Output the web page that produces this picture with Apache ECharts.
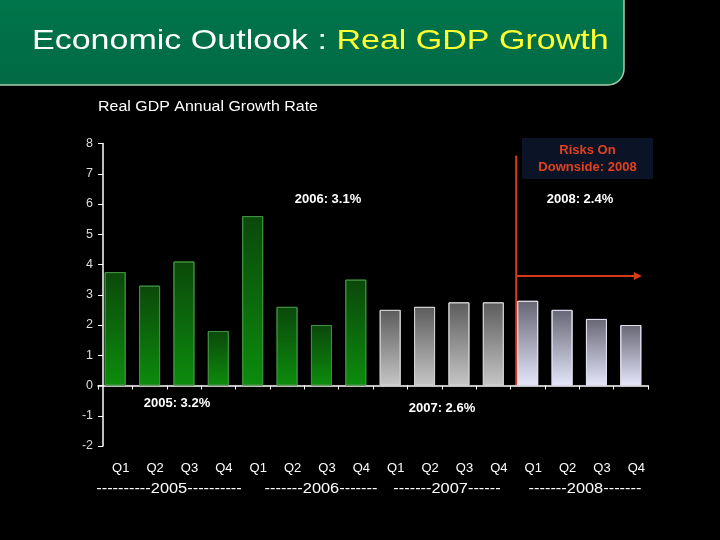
<!DOCTYPE html>
<html><head><meta charset="utf-8">
<script src="https://cdn.jsdelivr.net/npm/echarts@6/dist/echarts.min.js"></script>
<style>html,body{margin:0;padding:0;background:#000}#c{width:720px;height:540px}</style>
</head><body><div id="c"></div>
<script>
// ---- data ----
var quarters = ['Q1','Q2','Q3','Q4','Q1','Q2','Q3','Q4','Q1','Q2','Q3','Q4','Q1','Q2','Q3','Q4'];
var yearOfBar = [2005,2005,2005,2005,2006,2006,2006,2006,2007,2007,2007,2007,2008,2008,2008,2008];
var growth = [3.75,3.3,4.1,1.8,5.6,2.6,2.0,3.5,2.5,2.6,2.75,2.75,2.8,2.5,2.2,2.0];
var yearLabels = ['----------2005----------','-------2006-------','-------2007------','-------2008-------'];
var annualNotes = ['2005: 3.2%','2006: 3.1%','2007: 2.6%','2008: 2.4%'];
var yTicks = {min:-2, max:8, interval:1};

function grad(top, bottom){
  return {type:'linear',x:0,y:0,x2:0,y2:1,colorStops:[{offset:0,color:top},{offset:1,color:bottom}]};
}
var styles = {
  2005:{color:grad('#0b480b','#0c8c0c'), borderColor:'#3f8f3f'},
  2006:{color:grad('#0b480b','#0c8c0c'), borderColor:'#3f8f3f'},
  2007:{color:grad('#5c5c5c','#c6c6c6'), borderColor:'#d0d0d0'},
  2008:{color:grad('#666674','#e6e6fc'), borderColor:'#e0e0f0'}
};
var barData = growth.map(function(v,i){
  var s = styles[yearOfBar[i]];
  return {value:v, itemStyle:{color:s.color, borderColor:s.borderColor, borderWidth:1}};
});

var chart = echarts.init(document.getElementById('c'));
var font = 'Liberation Sans, Arial, sans-serif';
chart.setOption({
  backgroundColor:'#000',
  animation:false,
  grid:{left:98, right:72, top:143.5, bottom:94},
  xAxis:[
    {type:'category', data:quarters, axisLine:{onZero:true, lineStyle:{color:'#fff',width:1.5}},
     axisTick:{show:true, length:4, lineStyle:{color:'#fff'}}, axisLabel:{show:false}},
    {type:'category', data:quarters, position:'bottom', axisLine:{show:false, onZero:false}, axisTick:{show:false},
     axisLabel:{color:'#fff', fontFamily:font, fontSize:13, margin:16, padding:[0,0,0,11]}}
  ],
  yAxis:{type:'value', min:yTicks.min, max:yTicks.max, interval:yTicks.interval, offset:-5,
    axisLine:{show:true, lineStyle:{color:'#fff',width:1.5}},
    axisTick:{show:true, length:5, lineStyle:{color:'#fff'}},
    splitLine:{show:false},
    axisLabel:{color:'#ddd', fontFamily:font, fontSize:12.5, margin:10}},
  series:[{type:'bar', xAxisIndex:0, data:barData, barWidth:21}]
});

// annotations positioned from the chart's own scales
function px(cat, val){ return chart.convertToPixel({xAxisIndex:0, yAxisIndex:0}, [cat, val]); }
var lineX = px(12,0)[0] - 11.5;
var lineTop = px(12,7.6)[1];
var zeroY = px(12,0)[1];
var arrowY = px(12,3.62)[1];
var arrowEnd = px(15,0)[0] + 11;

var g = [
  {type:'rect', shape:{x:-20,y:-20,width:644,height:105,r:16}, style:{fill:grad('#00774c','#006a44'), stroke:'#a8ccb2', lineWidth:1.5}},
  {type:'text', x:32, y:41, scaleX:1.215, style:{text:'{w|Economic Outlook : }{y|Real GDP Growth}', verticalAlign:'middle',
    rich:{w:{fill:'#fff', font:'28px '+font}, y:{fill:'#ffff33', font:'28px '+font}}}},
  {type:'text', x:98, y:107, scaleX:1.14, style:{text:'Real GDP Annual Growth Rate', fill:'#fff', font:'14px '+font, verticalAlign:'middle'}},
  {type:'rect', shape:{x:522,y:138,width:131,height:41}, style:{fill:'#0a1426'}},
  {type:'text', x:587.5, y:158.5, style:{text:'Risks On\nDownside: 2008', fill:'#e2401e', font:'bold 13px '+font, align:'center', verticalAlign:'middle', lineHeight:17}},
  {type:'line', shape:{x1:lineX,y1:lineTop,x2:lineX,y2:zeroY}, style:{stroke:'#d8391b', lineWidth:2}},
  {type:'line', shape:{x1:lineX,y1:arrowY,x2:arrowEnd-6,y2:arrowY}, style:{stroke:'#d8391b', lineWidth:2}},
  {type:'polygon', shape:{points:[[arrowEnd,arrowY],[arrowEnd-8,arrowY-4],[arrowEnd-8,arrowY+4]]}, style:{fill:'#d8391b'}}
];
var notePos = [[177,403],[328,199],[442,408],[580,199]];
annualNotes.forEach(function(t,i){
  g.push({type:'text', x:notePos[i][0], y:notePos[i][1], style:{text:t, fill:'#fff', font:'bold 13px '+font, align:'center', verticalAlign:'middle'}});
});
var yearPos = [169,321,447,585];
yearLabels.forEach(function(t,i){
  g.push({type:'text', x:yearPos[i], y:489, scaleX:1.17, style:{text:t, fill:'#fff', font:'14px '+font, align:'center', verticalAlign:'middle'}});
});
chart.setOption({graphic:g});
</script></body></html>
